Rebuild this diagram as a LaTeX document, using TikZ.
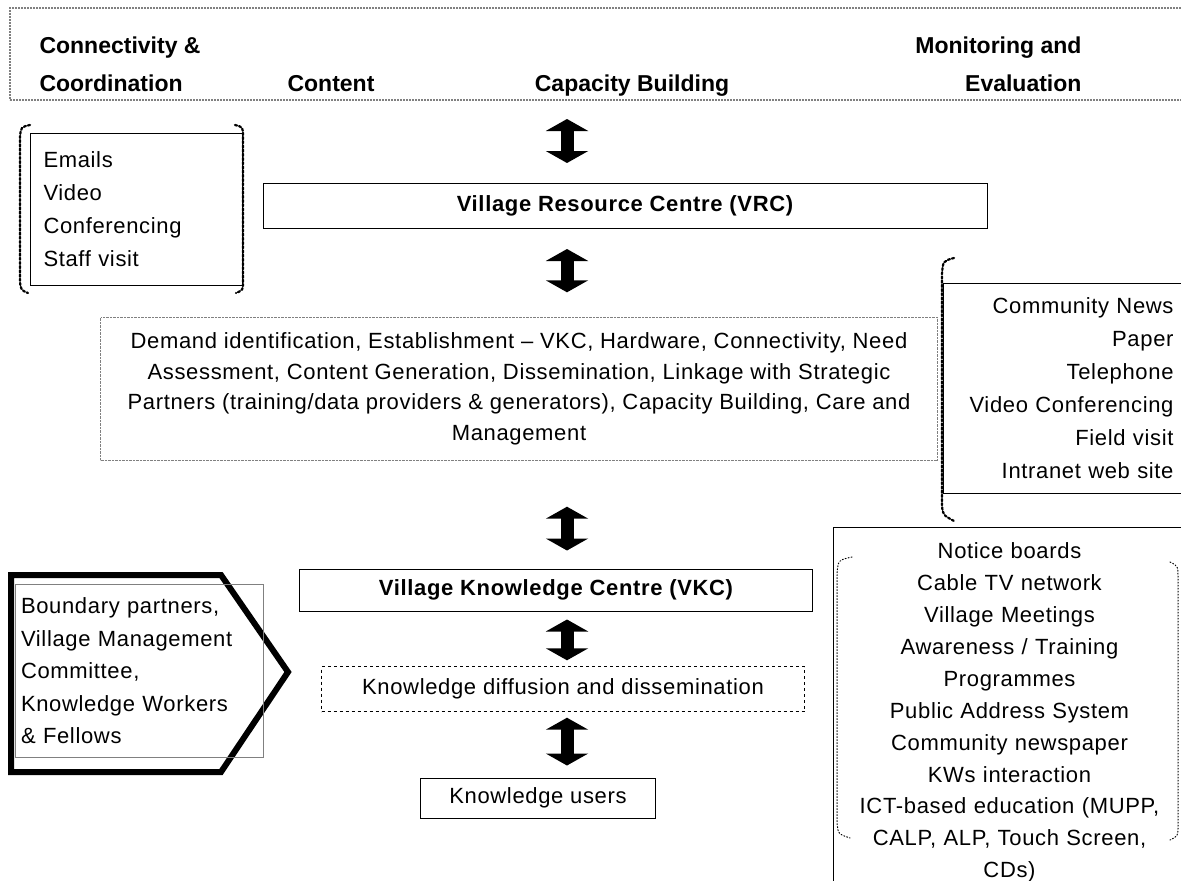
\documentclass[tikz,border=0pt]{standalone}
\usepackage{fontspec}
\setmainfont{Liberation Sans}
\newfontfamily\spaced[LetterSpace=3]{Liberation Sans}
\usetikzlibrary{arrows.meta}
\begin{document}
\begin{tikzpicture}[x=1pt, y=-1pt,
        txt/.style={font=\spaced\fontsize{22}{33}\selectfont},
        bold/.style={font=\spaced\fontsize{22}{26}\selectfont\bfseries},
        hd/.style={font=\fontsize{23}{38}\selectfont\bfseries},
        box/.style={draw, line width=1pt, inner sep=0pt},
        dbl/.style={line width=13pt, {Triangle[length=12pt,width=42pt]}-{Triangle[length=12pt,width=42pt]}},
        brk/.style={line width=2.2pt, dotted, line cap=round},
        thinbrk/.style={line width=1pt, dotted, line cap=round}]
                \useasboundingbox (0,0) rectangle (1181,881);
                % header
                \node[draw=gray, line width=2pt, densely dotted, minimum width=1180pt, minimum height=92pt, inner sep=0pt] (hdr) at (600,54) {};
                \node[hd, align=left, anchor=base west] (hcc) at (36,91) {Connectivity \&\\Coordination};
                \node[hd, anchor=base] (hcon) at (331,91) {Content};
                \node[hd, anchor=base] (hcap) at (632,91) {Capacity Building};
                \node[hd, align=right, anchor=base east] (hme) at (1085,91) {Monitoring and\\Evaluation};
                % centre column
                \node[box, bold, minimum width=724pt, minimum height=45pt] (vrc) at (625,206) {Village Resource Centre (VRC)};
                \node[draw=gray, densely dotted, align=center, minimum width=837pt, minimum height=143pt, inner sep=0pt, font=\spaced\fontsize{22}{30.5}\selectfont] (act) at (519,389) {Demand identification, Establishment – VKC, Hardware, Connectivity, Need\\Assessment, Content Generation, Dissemination, Linkage with Strategic\\Partners (training/data providers \& generators), Capacity Building, Care and\\Management};
                \node[box, bold, minimum width=513pt, minimum height=42pt] (vkc) at (556,590) {Village Knowledge Centre (VKC)};
                \node[draw, dashed, txt, minimum width=483pt, minimum height=45pt, inner sep=0pt] (diff) at (563,689) {Knowledge diffusion and dissemination};
                \node[box, txt, minimum width=235pt, minimum height=40pt] (users) at (538,798) {Knowledge users};
                % arrows
                \coordinate (ax) at (567,0);
                \draw[dbl, shorten <=18pt, shorten >=20pt] (hdr.south -| ax) -- (vrc.north -| ax);
                \draw[dbl, shorten <=20pt, shorten >=25pt] (vrc.south -| ax) -- (act.north -| ax);
                \draw[dbl, shorten <=46pt, shorten >=18pt] (act.south -| ax) -- (vkc.north -| ax);
                \draw[dbl, shorten <=8pt, shorten >=6pt] (vkc.south -| ax) -- (diff.north -| ax);
                \draw[dbl, shorten <=6pt, shorten >=12pt] (diff.south -| ax) -- (users.north -| ax);
                % left side
                \node[box, txt, align=left, text width=185pt, minimum width=212pt, minimum height=152pt, inner xsep=13pt] (comm) at (136,209) {Emails\\Video\\Conferencing\\Staff visit};
                \draw[brk] (30,125) .. controls (21,127) .. (20,137) -- (20,282) .. controls (21,290) .. (28,293);
                \draw[brk] (235,125) .. controls (243,127) .. (243,137) -- (243,282) .. controls (243,290) .. (236,293);
                \draw[line width=6pt, line join=miter] (11,575) -- (221,575) -- (288,672) -- (221,772) -- (11,772) -- cycle;
                \node[draw=gray, line width=0.8pt, align=left, text width=236pt, minimum width=248pt, minimum height=173pt, inner xsep=6pt, font=\spaced\fontsize{22}{32.5}\selectfont] (bnd) at (139,671) {Boundary partners,\\Village Management\\Committee,\\Knowledge Workers\\\& Fellows};
                % right side
                \node[box, txt, align=right, text width=218pt, minimum width=242pt, minimum height=210pt, inner xsep=12pt, anchor=north west] (media) at (943,283) {Community News\\Paper\\Telephone\\Video Conferencing\\Field visit\\Intranet web site};
                \draw[brk] (954,258) .. controls (943,261) .. (942,274) -- (942,506) .. controls (943,515) .. (954,521);
                \node[box, align=center, text width=340pt, minimum width=352pt, minimum height=370pt, anchor=north west, inner ysep=2pt, font=\spaced\fontsize{22}{31.9}\selectfont] (outr) at (833,527) {Notice boards\\Cable TV network\\Village Meetings\\Awareness / Training\\Programmes\\Public Address System\\Community newspaper\\KWs interaction\\ICT-based education (MUPP,\\CALP, ALP, Touch Screen,\\CDs)};
                \draw[thinbrk] (852,557) .. controls (838,560) .. (837,575) -- (837,822) .. controls (838,834) .. (850,838);
                \draw[thinbrk] (1170,562) .. controls (1178,566) .. (1178,578) -- (1178,826) .. controls (1178,836) .. (1170,840);
\end{tikzpicture}
\end{document}
